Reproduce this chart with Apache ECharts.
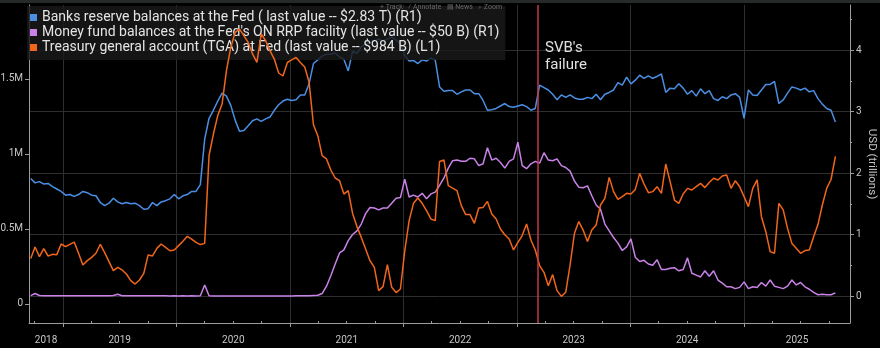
<!DOCTYPE html>
<html>
<head>
<meta charset="utf-8">
<script src="https://cdn.jsdelivr.net/npm/echarts@6/dist/echarts.min.js"></script>
<style>
  html, body { margin: 0; padding: 0; background: #000; }
  #chart { width: 880px; height: 348px; }
</style>
</head>
<body>
<div id="chart"></div>
<script>
// Fed balance-sheet liquidity: bank reserves, ON RRP usage and the TGA.
// Observations are every two weeks, starting Wednesday 19 Sep 2018.
const firstObs = [2018, 8, 19];
const stepDays = 14;

// Banks reserve balances at the Fed, USD trillions (right axis)
const reserves = [
  1.91, 1.84, 1.86, 1.82, 1.83, 1.78, 1.74, 1.70, 1.64, 1.65,
  1.62, 1.65, 1.70, 1.68, 1.64, 1.63, 1.52, 1.47, 1.51, 1.59,
  1.53, 1.50, 1.52, 1.50, 1.51, 1.47, 1.41, 1.42, 1.52, 1.47,
  1.53, 1.55, 1.58, 1.65, 1.58, 1.63, 1.65, 1.70, 1.70, 1.81,
  2.55, 2.89, 3.02, 3.17, 3.30, 3.25, 3.10, 2.86, 2.68, 2.69,
  2.77, 2.85, 2.88, 2.84, 2.88, 2.91, 3.02, 3.11, 3.17, 3.20,
  3.18, 3.19, 3.27, 3.27, 3.45, 3.78, 3.84, 3.90, 3.93, 3.93,
  3.95, 3.89, 3.85, 3.66, 3.98, 3.94, 4.05, 4.10, 4.12, 4.15,
  4.18, 4.14, 4.18, 4.21, 4.16, 4.10, 3.91, 3.82, 3.83, 3.78,
  3.84, 3.82, 3.87, 3.84, 3.40, 3.33, 3.34, 3.34, 3.28, 3.32,
  3.35, 3.35, 3.29, 3.29, 3.18, 3.02, 3.03, 3.05, 3.09, 3.13,
  3.08, 3.07, 3.09, 3.11, 3.08, 3.02, 3.05, 3.43, 3.39, 3.35,
  3.28, 3.19, 3.27, 3.23, 3.27, 3.22, 3.20, 3.20, 3.23, 3.21,
  3.28, 3.19, 3.28, 3.31, 3.35, 3.47, 3.43, 3.56, 3.45, 3.51,
  3.59, 3.54, 3.58, 3.54, 3.57, 3.61, 3.31, 3.38, 3.37, 3.45,
  3.38, 3.28, 3.34, 3.25, 3.37, 3.29, 3.34, 3.21, 3.18, 3.24,
  3.21, 3.27, 3.29, 3.23, 2.89, 3.35, 3.27, 3.26, 3.35, 3.44,
  3.44, 3.49, 3.13, 3.19, 3.30, 3.40, 3.38, 3.35, 3.38, 3.32,
  3.34, 3.21, 3.12, 3.05, 3.02, 2.83
];

// Money fund balances at the ON RRP facility, USD billions (right axis)
const rrp = [
  5, 40, 8, 5, 4, 3, 5, 4, 3, 5,
  4, 3, 5, 4, 6, 3, 5, 4, 3, 8,
  28, 5, 4, 3, 5, 4, 6, 3, 5, 4,
  3, 5, 2, 3, 2, 3, 2, 3, 2, 3,
  180, 4, 2, 1, 1, 0, 0, 1, 0, 0,
  1, 0, 0, 1, 0, 0, 1, 1, 0, 1,
  2, 5, 4, 3, 5, 10, 12, 40, 160, 330,
  520, 700, 750, 900, 1000, 1060, 1170, 1340, 1440, 1430,
  1400, 1430, 1430, 1510, 1590, 1600, 1900, 1610, 1640, 1610,
  1670, 1580, 1660, 1690, 1800, 1920, 2080, 2200, 2210, 2190,
  2190, 2240, 2230, 2120, 2150, 2410, 2210, 2240, 2170, 2080,
  2190, 2230, 2500, 2120, 2070, 2150, 2190, 2160, 2330, 2210,
  2200, 2230, 2120, 2090, 2030, 1870, 1770, 1760, 1790, 1630,
  1480, 1410, 1170, 1060, 950, 860, 740, 800, 930, 630,
  560, 580, 520, 500, 590, 430, 430, 450, 460, 410,
  430, 620, 370, 340, 310, 410, 320, 410, 260, 210,
  150, 150, 120, 140, 230, 120, 150, 140, 220, 160,
  260, 160, 140, 120, 160, 260, 180, 220, 150, 110,
  60, 20, 30, 20, 20, 50
];

// Treasury general account at the Fed, USD billions (left axis)
const tga = [
  304, 380, 316, 369, 320, 331, 329, 400, 382, 398,
  413, 338, 260, 289, 311, 338, 398, 342, 282, 222,
  244, 227, 200, 156, 133, 160, 204, 327, 320, 371,
  400, 378, 355, 360, 389, 418, 451, 433, 411, 396,
  404, 990, 1133, 1256, 1333, 1556, 1711, 1811, 1833, 1789,
  1744, 1667, 1611, 1800, 1756, 1689, 1633, 1540, 1520, 1610,
  1627, 1644, 1610, 1580, 1480, 1195, 1122, 989, 967, 893,
  840, 822, 733, 756, 604, 516, 444, 367, 289, 244,
  89, 116, 262, 111, 76, 100, 356, 556, 671, 707,
  671, 622, 567, 556, 950, 960, 789, 773, 756, 656,
  596, 596, 538, 640, 644, 684, 600, 567, 500, 462,
  433, 360, 411, 456, 533, 427, 360, 256, 211, 122,
  196, 89, 51, 78, 260, 470, 550, 493, 416, 493,
  527, 660, 704, 844, 749, 698, 716, 738, 733, 764,
  871, 800, 742, 749, 782, 738, 933, 816, 693, 671,
  733, 771, 760, 782, 804, 776, 810, 838, 827, 853,
  860, 771, 822, 782, 716, 649, 771, 827, 582, 482,
  349, 338, 671, 627, 504, 404, 371, 338, 356, 360,
  449, 531, 660, 771, 830, 984
];

const seriesNames = [
  'Banks reserve balances at the Fed ( last value -- $2.83 T) (R1)',
  "Money fund balances at the Fed's ON RRP facility (last value -- $50 B) (R1)",
  'Treasury general account (TGA) at Fed (last value -- $984 B) (L1)'
];
const seriesColors = ['#4a8fe3', '#c982e8', '#f2661c'];

const years = [2018, 2019, 2020, 2021, 2022, 2023, 2024, 2025];
const leftTicks = [0, 500, 1000, 1500];          // USD billions, shown as "M" (USD millions of millions)
const rightTicks = [0, 1, 2, 3, 4];              // USD trillions
const rightMinorTicks = [0.5, 1.5, 2.5, 3.5, 4.5];
const svbDate = new Date(2023, 2, 10).getTime();
const svbLabel = "SVB's\nfailure";

const dates = reserves.map((_, i) =>
  new Date(firstObs[0], firstObs[1], firstObs[2] + stepDays * i).getTime());

const xMin = new Date(2018, 8, 13, 12).getTime();
const xMax = new Date(2025, 11, 8).getTime();

const yearStarts = years.slice(1).map(y => new Date(y, 0, 1).getTime());
const quarterStarts = [];
years.forEach(y => [3, 6, 9].forEach(m => {
  const t = new Date(y, m, 1).getTime();
  if (t > xMin && t < xMax) quarterStarts.push(t);
}));
const yearLabelAt = years.map(y => {
  const a = Math.max(new Date(y, 0, 1).getTime(), xMin);
  const b = Math.min(new Date(y + 1, 0, 1).getTime(), xMax);
  return (a + b) / 2;
});

const axisGray = '#9c9c9c';
const labelGray = '#c6c6c6';
const gridGray = '#2e2e2e';
const font = 'Roboto, "Liberation Sans", sans-serif';

const chart = echarts.init(document.getElementById('chart'), null, { renderer: 'canvas' });

const pairs = vals => dates.map((d, i) => [d, vals[i]]);

chart.setOption({
  backgroundColor: '#000',
  animation: false,
  textStyle: { fontFamily: font },
  grid: { left: 29, right: 30, top: 5, bottom: 25, outerBoundsMode: 'none', containLabel: false },
  legend: {
    orient: 'vertical',
    left: 27,
    top: 6,
    icon: 'rect',
    itemWidth: 7,
    itemHeight: 7,
    itemGap: 0,
    padding: [4, 6, 5, 3],
    backgroundColor: 'rgba(26,26,26,0.82)',
    textStyle: { color: '#e4e4e4', fontSize: 14, lineHeight: 15, fontFamily: font },
    data: seriesNames
  },
  xAxis: [
    {
      // timestamps on a linear axis so ticks and labels can sit on chosen dates
      type: 'value', min: xMin, max: xMax, position: 'bottom',
      axisLine: { show: true, onZero: false, lineStyle: { color: axisGray, width: 1 } },
      axisTick: { show: true, customValues: yearStarts, length: 4, lineStyle: { color: axisGray } },
      axisLabel: {
        customValues: yearLabelAt,
        formatter: v => String(new Date(v).getFullYear()),
        color: labelGray, fontSize: 10, margin: 12, fontFamily: font
      },
      splitLine: { show: true, lineStyle: { color: gridGray, width: 1 } }
    },
    {
      type: 'value', min: xMin, max: xMax, position: 'bottom',
      axisLine: { show: false, onZero: false },
      axisTick: { show: true, customValues: quarterStarts, length: 2, inside: true, lineStyle: { color: axisGray } },
      axisLabel: { show: false },
      splitLine: { show: false }
    }
  ],
  yAxis: [
    {
      type: 'value', position: 'left', min: -126.7, max: 1993.3,
      axisLine: { show: true, onZero: false, lineStyle: { color: axisGray } },
      axisTick: { show: true, customValues: leftTicks, length: 4, lineStyle: { color: axisGray } },
      axisLabel: {
        customValues: leftTicks,
        formatter: v => (v === 0 ? '0' : (v / 1000) + 'M'),
        color: labelGray, fontSize: 10, margin: 6, fontFamily: font
      },
      splitLine: { show: false }
    },
    {
      type: 'value', position: 'right', min: -0.439, max: 4.732,
      name: 'USD (trillions)', nameLocation: 'middle', nameRotate: -90, nameGap: 16,
      nameMoveOverlap: false,
      nameTextStyle: { color: labelGray, fontSize: 11.5, fontFamily: font },
      axisLine: { show: true, onZero: false, lineStyle: { color: axisGray } },
      axisTick: { show: true, customValues: rightTicks, length: 4, lineStyle: { color: axisGray } },
      axisLabel: { customValues: rightTicks, color: labelGray, fontSize: 10, margin: 6, fontFamily: font },
      splitLine: { show: true, lineStyle: { color: gridGray, width: 1 } }
    },
    {
      type: 'value', position: 'right', min: -0.439, max: 4.732,
      axisLine: { show: false, onZero: false },
      axisTick: { show: true, customValues: rightMinorTicks, length: 2, lineStyle: { color: axisGray } },
      axisLabel: { show: false },
      splitLine: { show: false }
    }
  ],
  series: [
    {
      name: seriesNames[0], type: 'line', xAxisIndex: 0, yAxisIndex: 1,
      data: pairs(reserves), showSymbol: false, symbol: 'none',
      color: seriesColors[0], lineStyle: { color: seriesColors[0], width: 1.5 }, z: 2,
      markLine: {
        silent: true, symbol: 'none', animation: false,
        label: { show: false },
        lineStyle: { color: '#c23a4c', width: 1.5, type: 'solid' },
        data: [{ xAxis: svbDate }]
      }
    },
    {
      name: seriesNames[1], type: 'line', xAxisIndex: 0, yAxisIndex: 1,
      data: pairs(rrp.map(v => v / 1000)), showSymbol: false, symbol: 'none',
      color: seriesColors[1], lineStyle: { color: seriesColors[1], width: 1.5 }, z: 3
    },
    {
      name: seriesNames[2], type: 'line', xAxisIndex: 0, yAxisIndex: 0,
      data: pairs(tga), showSymbol: false, symbol: 'none',
      color: seriesColors[2], lineStyle: { color: seriesColors[2], width: 1.5 }, z: 4
    }
  ]
});

// Annotation text beside the SVB line, plus the chart toolbar strip
const svbX = chart.convertToPixel({ xAxisIndex: 0 }, svbDate);
chart.setOption({
  graphic: [
    {
      type: 'rect', left: 0, top: 0, z: 100,
      shape: { width: 880, height: 3 },
      style: { fill: '#262b2a' }
    },
    {
      type: 'text', left: 380, top: 4, z: 100,
      style: {
        text: '+ Track   ⁄ Annotate   ▤ News   ⌕ Zoom',
        fill: '#6a6a6a', font: '7px ' + font
      }
    },
    {
      type: 'text', x: svbX + 7, y: 40, z: 100,
      style: {
        text: svbLabel, fill: '#e0e0e0',
        font: '15px ' + font, lineHeight: 17
      }
    }
  ]
});
</script>
</body>
</html>
